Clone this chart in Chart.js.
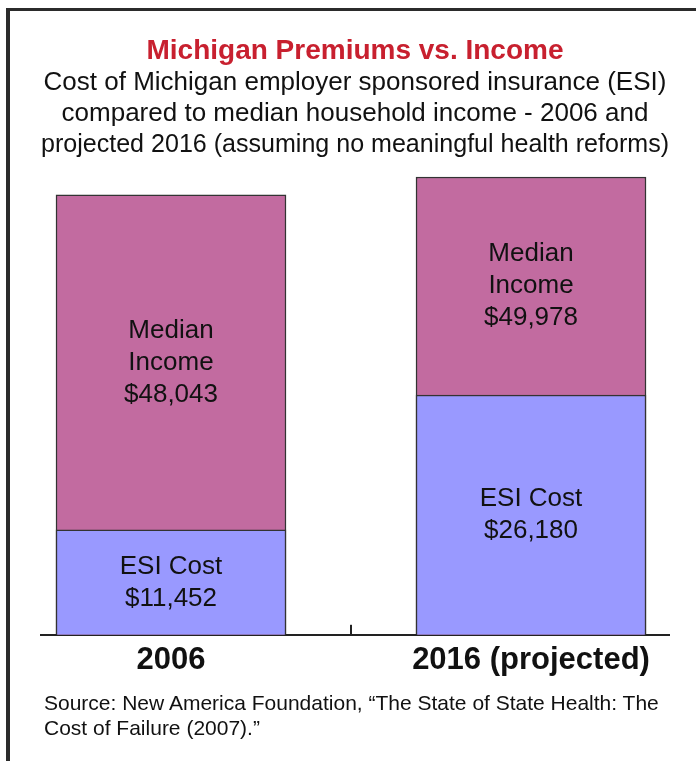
<!DOCTYPE html>
<html>
<head>
<meta charset="utf-8">
<script src="https://cdn.jsdelivr.net/npm/chart.js@4.4.1/dist/chart.umd.min.js"></script>
<style>
  body { margin: 0; background: #fff; }
  #wrap { position: relative; width: 696px; height: 761px; overflow: hidden; }
  #frame { position: absolute; left: 6px; top: 8px; right: 0; bottom: 0; border-left: 4px solid #2b2b2b; border-top: 3px solid #2b2b2b; }
  #chart { position: absolute; left: 0; top: 0; }
  #source { position: absolute; left: 44px; top: 690px; font: 21px "Liberation Sans", Arial, sans-serif; line-height: 25px; color: #111; }
</style>
</head>
<body>
<div id="wrap">
  <div id="frame"></div>
  <canvas id="chart" width="696" height="761"></canvas>
  <div id="source">Source: New America Foundation, “The State of State Health: The<br>Cost of Failure (2007).”</div>
</div>
<script>
const categories = ["2006", "2016 (projected)"];
const medianIncome = [48043, 49978];
const esiCost = [11452, 26180];
const medianLabel = ["Median", "Income"];
const esiLabel = ["ESI Cost"];

const fmt = (v) => "$" + v.toLocaleString("en-US");
const sans = "'Liberation Sans', Arial, sans-serif";

// writes the labels in the middle of each visible piece of bar
const barText = {
  id: "barText",
  afterDatasetsDraw(chart) {
    const ctx = chart.ctx;
    const med = chart.getDatasetMeta(0).data;
    const esi = chart.getDatasetMeta(1).data;
    ctx.save();
    ctx.font = "26px " + sans;
    ctx.fillStyle = "#111";
    ctx.textAlign = "center";
    ctx.textBaseline = "middle";
    const lh = 32;
    const write = (lines, x, cy) => {
      const y0 = cy - (lines.length - 1) * lh / 2;
      lines.forEach((t, k) => ctx.fillText(t, x, y0 + k * lh));
    };
    categories.forEach((c, i) => {
      write([...medianLabel, fmt(medianIncome[i])], med[i].x, (med[i].y + esi[i].y) / 2);
      write([...esiLabel, fmt(esiCost[i])], esi[i].x, (esi[i].y + esi[i].base) / 2);
    });
    // small tick between the two bars, going up from the axis
    const xm = chart.scales.x.getPixelForValue(0.5);
    ctx.strokeStyle = "#222";
    ctx.lineWidth = 2;
    ctx.beginPath();
    ctx.moveTo(xm, chart.chartArea.bottom - 10);
    ctx.lineTo(xm, chart.chartArea.bottom);
    ctx.stroke();
    ctx.restore();
  }
};

new Chart(document.querySelector("#chart"), {
  type: "bar",
  data: {
    datasets: [
      {
        label: "Median Income",
        data: medianIncome.map((v, i) => ({ x: i, y: v })),
        backgroundColor: "#C26BA0",
        borderColor: "#333",
        borderWidth: 1.5,
        order: 1,
      },
      {
        label: "ESI Cost",
        data: esiCost.map((v, i) => ({ x: i, y: v })),
        backgroundColor: "#9999FF",
        borderColor: "#333",
        borderWidth: 1.5,
        order: 0,
      },
    ],
  },
  options: {
    responsive: false,
    animation: false,
    layout: { padding: { left: 41, right: 27, top: 0, bottom: 75 } },
    datasets: { bar: { grouped: false, barThickness: 230 } },
    plugins: {
      legend: { display: false },
      tooltip: { enabled: false },
      title: {
        display: true,
        text: "Michigan Premiums vs. Income",
        color: "#C8202F",
        font: { family: sans, size: 28, weight: "bold" },
        padding: { top: 34, bottom: 0 },
      },
      subtitle: {
        display: true,
        text: [
          "Cost of Michigan employer sponsored insurance (ESI)",
          "compared to median household income - 2006 and",
          "projected 2016 (assuming no meaningful health reforms)",
        ],
        color: "#111",
        font: { family: sans, size: 26, lineHeight: 1.19 },
        padding: { top: 0, bottom: 10 },
      },
    },
    scales: {
      x: {
        type: "linear",
        offset: false,
        min: -0.3611,
        max: 1.3833,
        afterBuildTicks: (s) => { s.ticks = [0, 1].map((v) => ({ value: v })); },
        ticks: {
          callback: (v) => categories[v],
          color: "#111",
          font: { family: sans, size: 31, weight: "bold" },
          padding: 7,
          maxRotation: 0,
        },
        grid: { display: false, drawTicks: false },
        border: { display: true, color: "#222", width: 2 },
      },
      y: {
        display: false,
        min: 0,
        max: 50700,
      },
    },
  },
  plugins: [barText],
});
</script>
</body>
</html>
